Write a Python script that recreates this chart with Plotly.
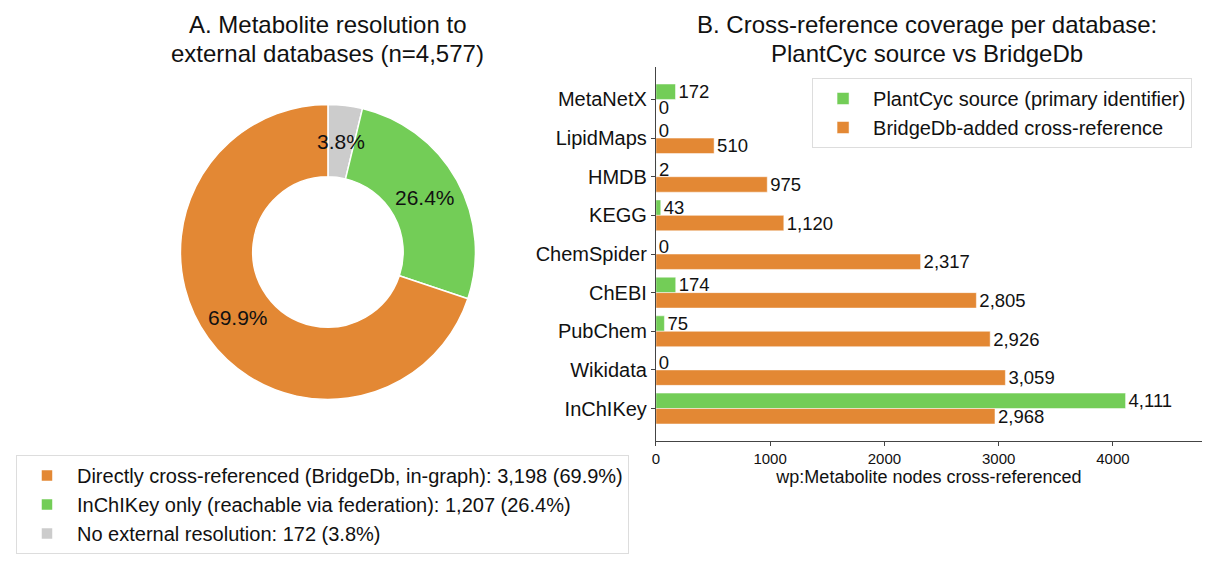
import math
import plotly.graph_objects as go

# Panel A: metabolite resolution
res_labels = [
    "Directly cross-referenced (BridgeDb, in-graph): 3,198 (69.9%)",
    "InChIKey only (reachable via federation): 1,207 (26.4%)",
    "No external resolution: 172 (3.8%)",
]
res_counts = [3198, 1207, 172]
res_colors = ["#E38834", "#73CD57", "#CCCCCC"]

# Panel B: cross-reference coverage per database
databases = ["MetaNetX", "LipidMaps", "HMDB", "KEGG", "ChemSpider",
             "ChEBI", "PubChem", "Wikidata", "InChIKey"]
plantcyc = [172, 0, 2, 43, 0, 174, 75, 0, 4111]
bridgedb = [0, 510, 975, 1120, 2317, 2805, 2926, 3059, 2968]

green = "#73CD57"
orange = "#E38834"
font_family = "Liberation Sans, Arial, sans-serif"

# page body has an 8px margin, so the figure is drawn 8px in from the corner
W, H, OFF = 1202, 554, 8


def fx(px):
    return (px - OFF) / W


def fy(py):
    return 1 - (py - OFF) / H


# donut geometry (pixels)
cx, cy, R, hole = 325, 252, 148, 0.51

fig = go.Figure()

# slices run clockwise from 12 o'clock: small grey, green, then orange
fig.add_trace(go.Pie(
    labels=res_labels[::-1],
    values=res_counts[::-1],
    marker=dict(colors=res_colors[::-1], line=dict(color="white", width=1.5)),
    hole=hole,
    sort=False,
    direction="clockwise",
    rotation=0,
    textinfo="none",
    domain=dict(x=[fx(cx - R), fx(cx + R)], y=[fy(cy + R), fy(cy - R)]),
    legend="legend2",
    hoverinfo="label+value",
))

# percentage labels at the middle of the ring, drawn on top of all slices
annotations = []
total = sum(res_counts)
start = 0.0
r_mid = R * (1 + hole) / 2
for v in res_counts[::-1]:
    frac = v / total
    ang = 2 * math.pi * (start + frac / 2)
    start += frac
    annotations.append(dict(
        text=f"{frac * 100:.1f}%",
        x=fx(cx + r_mid * math.sin(ang)), y=fy(cy - r_mid * math.cos(ang)),
        xref="paper", yref="paper", xanchor="center", yanchor="middle",
        showarrow=False, font=dict(size=21, color="#111111"),
    ))

fig.add_trace(go.Bar(
    name="PlantCyc source (primary identifier)",
    y=databases, x=plantcyc, orientation="h",
    marker=dict(color=green, line=dict(color="white", width=0.5)),
    texttemplate="%{x:,}", textposition="outside", constraintext="none",
    textfont=dict(size=18.5, color="#111111"),
    cliponaxis=False,
))
fig.add_trace(go.Bar(
    name="BridgeDb-added cross-reference",
    y=databases, x=bridgedb, orientation="h",
    marker=dict(color=orange, line=dict(color="white", width=0.5)),
    texttemplate="%{x:,}", textposition="outside", constraintext="none",
    textfont=dict(size=18.5, color="#111111"),
    cliponaxis=False,
))

title_lines = [
    ("A. Metabolite resolution to", 325, 25),
    ("external databases (n=4,577)", 325, 53),
    ("B. Cross-reference coverage per database:", 926, 25),
    ("PlantCyc source vs BridgeDb", 926, 53),
]
for t, px, py in title_lines:
    annotations.append(dict(
        text=t, x=fx(px), y=fy(py), xref="paper", yref="paper",
        xanchor="center", yanchor="middle", showarrow=False,
        font=dict(size=24),
    ))

fig.update_layout(
    width=W, height=H,
    margin=dict(l=0, r=0, t=0, b=0),
    paper_bgcolor="white", plot_bgcolor="white",
    font=dict(family=font_family, color="#111111"),
    barmode="group", bargap=0.2, bargroupgap=0,
    xaxis=dict(
        domain=[fx(654), fx(1202)], range=[0, 4780],
        tickvals=[0, 1000, 2000, 3000, 4000],
        showgrid=False, zeroline=False,
        showline=True, linecolor="#444444", linewidth=1,
        ticks="outside", ticklen=4, tickcolor="#444444",
        tickfont=dict(size=15),
        title=dict(text="wp:Metabolite nodes cross-referenced",
                   font=dict(size=18), standoff=2),
    ),
    yaxis=dict(
        domain=[fy(441), fy(67)], range=[8.84, -0.84],
        showgrid=False, zeroline=False,
        showline=True, linecolor="#444444", linewidth=1,
        ticks="outside", ticklen=4, tickcolor="#444444",
        tickfont=dict(size=20),
    ),
    legend=dict(
        x=fx(1192), y=fy(78), xanchor="right", yanchor="top",
        bgcolor="white", bordercolor="#DDDDDD", borderwidth=1,
        font=dict(size=20), traceorder="normal", itemwidth=50,
    ),
    legend2=dict(
        x=fx(12), y=fy(455), xanchor="left", yanchor="top",
        bgcolor="white", bordercolor="#DDDDDD", borderwidth=1,
        font=dict(size=20), traceorder="reversed", itemwidth=50,
    ),
    annotations=annotations,
)

fig.write_html("out.html")
